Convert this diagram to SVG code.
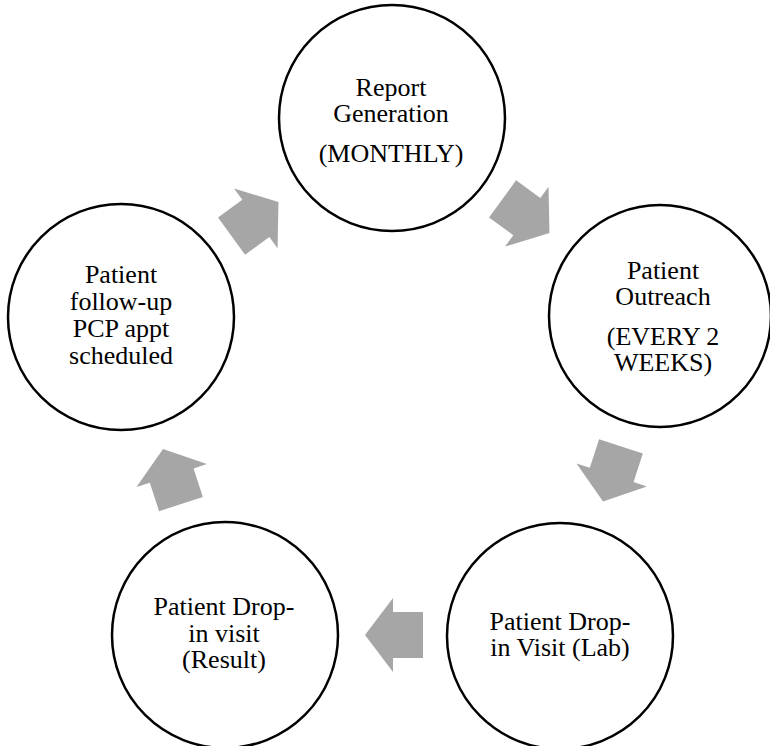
<svg xmlns="http://www.w3.org/2000/svg" xmlns:xlink="http://www.w3.org/1999/xlink" width="770" height="746" viewBox="0 0 770 746">
  <style>
    .node circle { fill: #ffffff; stroke: #000000; stroke-width: 2.5; }
    .node text { font-family: "Liberation Serif", "Times New Roman", serif; font-size: 26px; fill: #000000; text-anchor: middle; }
    .arrow { fill: #a6a6a6; stroke: none; }
  </style>
  <defs>
    <path id="blockArrow" d="M29,0 L1,-37 L1,-23 L-29,-23 L-29,23 L1,23 L1,37 Z"/>
  </defs>
  <rect x="0" y="0" width="770" height="746" fill="#ffffff"/>

  <g id="connectors">
    <use xlink:href="#blockArrow" class="arrow" transform="translate(526,216) rotate(36)"/>
    <use xlink:href="#blockArrow" class="arrow" transform="translate(612,474) rotate(108)"/>
    <use xlink:href="#blockArrow" class="arrow" transform="translate(394,635) rotate(180)"/>
    <use xlink:href="#blockArrow" class="arrow" transform="translate(172,476.5) rotate(252)"/>
    <use xlink:href="#blockArrow" class="arrow" transform="translate(255,219) rotate(-36)"/>
  </g>

  <g id="node-report" class="node">
    <circle cx="392" cy="118" r="113"/>
    <text x="391" y="96">Report</text>
    <text x="391" y="122">Generation</text>
    <text x="391" y="161.5">(MONTHLY)</text>
  </g>

  <g id="node-outreach" class="node">
    <circle cx="660" cy="316" r="111"/>
    <text x="663" y="278.5">Patient</text>
    <text x="663" y="304.5">Outreach</text>
    <text x="663" y="344.5">(EVERY 2</text>
    <text x="663" y="370.5">WEEKS)</text>
  </g>

  <g id="node-lab" class="node">
    <circle cx="560" cy="636" r="113"/>
    <text x="560" y="630">Patient Drop-</text>
    <text x="560" y="656">in Visit (Lab)</text>
  </g>

  <g id="node-result" class="node">
    <circle cx="225" cy="635" r="113"/>
    <text x="224" y="615">Patient Drop-</text>
    <text x="224" y="641.5">in visit</text>
    <text x="224" y="668">(Result)</text>
  </g>

  <g id="node-followup" class="node">
    <circle cx="121" cy="317" r="113"/>
    <text x="121" y="283">Patient</text>
    <text x="121" y="310">follow-up</text>
    <text x="121" y="337">PCP appt</text>
    <text x="121" y="364">scheduled</text>
  </g>
</svg>
